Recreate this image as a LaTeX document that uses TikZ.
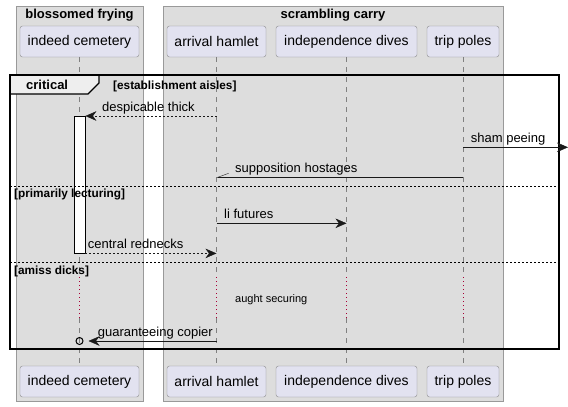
\documentclass[tikz,border=0pt]{standalone}
\usepackage{fontspec}
\setmainfont{Liberation Sans}
\usetikzlibrary{arrows.meta,positioning}
\definecolor{boxgray}{HTML}{DDDDDD}
\definecolor{boxline}{HTML}{999999}
\definecolor{partfill}{HTML}{E2E2F0}
\definecolor{partline}{HTML}{8A8A8A}
\definecolor{tabfill}{HTML}{EEEEEE}
\definecolor{delayred}{HTML}{A80036}
\tikzset{
  part/.style={draw=partline,fill=partfill,rounded corners=2.5pt,minimum height=31pt,inner sep=0pt,font=\fontsize{14}{16}\selectfont},
  lifeline/.style={draw=gray,dash pattern=on 5pt off 5pt},
  delay/.style={draw=delayred,line width=1pt,dash pattern=on 1pt off 3pt},
  msg/.style={draw=black!90,-{Stealth[length=11pt,width=9.5pt,inset=3.5pt]}},
  halfmsg/.style={draw=black!90,-{Straight Barb[right,length=11pt,width=8pt]}},
  dash2/.style={dash pattern=on 2pt off 2pt},
  lbl/.style={anchor=base west,inner sep=0pt,font=\fontsize{13}{15}\selectfont},
  guard/.style={anchor=base west,inner sep=0pt,font=\bfseries\fontsize{11.8}{14}\selectfont},
  grouptitle/.style={anchor=base,inner sep=0pt,font=\bfseries\fontsize{13}{15}\selectfont}
}
\begin{document}
\begin{tikzpicture}[x=1pt,y=-1pt]
\def\FL{10}
\def\FR{558.7}
\useasboundingbox (0,0) rectangle (568,407);
\fill[white] (0,0) rectangle (568,407);

\draw[draw=boxline,fill=boxgray] (16.5,6.5) rectangle (143,401);
\draw[draw=boxline,fill=boxgray] (163,6.5) rectangle (503,401);
\node[grouptitle] (g-blossom) at (79.5,18.3) {blossomed frying};
\node[grouptitle] (g-scramble) at (333,18.3) {scrambling carry};

\foreach \n/\x/\w/\t in {cem/79.5/119/indeed cemetery,ham/216.5/99/arrival hamlet,div/346.5/141/independence dives,pol/463/72/trip poles} {
  \node[part,minimum width=\w pt] (\n-top) at (\x,41.5) {\t};
  \node[part,minimum width=\w pt] (\n-bot) at (\x,381.5) {\t};
  \coordinate (\n-d1) at (\n-top.south |- 0,277);
  \coordinate (\n-d2) at (\n-top.south |- 0,318);
  \draw[lifeline] (\n-top.south) -- (\n-d1);
  \draw[delay] (\n-d1) -- (\n-d2);
  \draw[lifeline] (\n-d2) -- (\n-bot.north);
};

\node[draw,fill=white,minimum width=11pt,minimum height=137pt,inner sep=0pt,anchor=north west] (act) at (74,116) {};

\draw[fill=tabfill,line width=1.2pt] (\FL,75) -- (99,75) -- (99,83) -- (88,94) -- (\FL,94) -- cycle;
\draw[line width=2pt] (\FL,75) rectangle (\FR,349);
\node[anchor=base west,inner sep=0pt,font=\bfseries\fontsize{13}{15}\selectfont] (crit) at (26,89.5) {critical};
\node[guard] (g-aisles) at (113,89.3) {[establishment aisles]};

\draw[dash2] (\FL,186) -- (\FR,186);
\node[guard] (g-lect) at (14,197.7) {[primarily lecturing]};
\draw[dash2] (\FL,262.3) -- (\FR,262.3);
\node[guard] (g-dicks) at (14,274) {[amiss dicks]};

\coordinate (edge) at (568,147.3);
\draw[msg,dash2] (ham-top |- act.north) -- (act.north east);
\node[lbl] (m-thick) at (102,111.5) {despicable thick};
\draw[msg] (pol-top |- edge) -- (edge);
\node[lbl] (m-sham) at (470.7,142) {sham peeing};
\draw[halfmsg] (pol-top |- 0,177.3) -- (ham-top |- 0,177.3);
\node[lbl] (m-supp) at (235,172.7) {supposition hostages};
\draw[msg] (ham-top |- 0,223.3) -- (div-top |- 0,223.3);
\node[lbl] (m-li) at (224,218.3) {li futures};
\draw[msg,dash2] (act.south east) -- (ham-top |- act.south);
\node[lbl] (m-central) at (87.7,248.7) {central rednecks};
\node[anchor=base west,inner sep=0pt,font=\fontsize{11}{13}\selectfont] (m-aught) at (235,302.3) {aught securing};
\node[circle,draw,line width=1pt,inner sep=0pt,minimum size=7pt] (lost) at (cem-top |- 0,341) {};
\draw[msg] (ham-top |- lost) -- ([xshift=5pt]lost.east);
\node[lbl] (m-guar) at (97.7,336.7) {guaranteeing copier};
\end{tikzpicture}
\end{document}
